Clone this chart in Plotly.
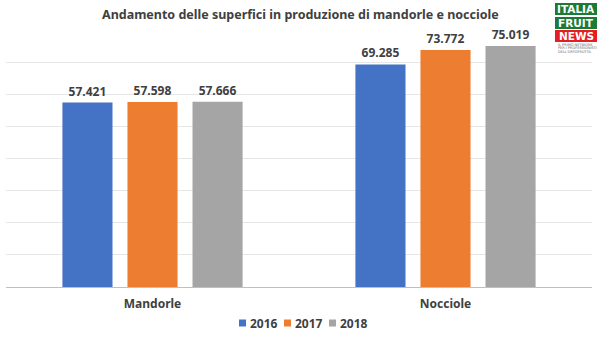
import plotly.graph_objects as go

# Chart data
categories = ["Mandorle", "Nocciole"]
years = ["2016", "2017", "2018"]
values_2016 = [57421, 69285]
values_2017 = [57598, 73772]
values_2018 = [57666, 75019]
series_values = [values_2016, values_2017, values_2018]
colors = ["#4472C4", "#ED7D31", "#A5A5A5"]

W, H = 600, 337
ML, MR, MT, MB = 6, 8, 30, 50
PW, PH = W - ML - MR, H - MT - MB


def px_x(x):
    return (x - ML) / PW


def px_y(y):
    return (H - MB - y) / PH


TXT = "#404040"
FONT = "Noto Sans"

fig = go.Figure()
for year, vals, col in zip(years, series_values, colors):
    fig.add_trace(go.Bar(
        name=year, x=categories, y=vals, marker_color=col,
        marker_line_width=0, showlegend=False,
        texttemplate="%{y:,.0f}", textposition="outside",
        textfont=dict(family=FONT, size=12, color=TXT, weight="bold"),
        cliponaxis=False,
    ))

shapes = []
annotations = [dict(
    text="Andamento delle superfici in produzione di mandorle e nocciole",
    xref="paper", yref="paper", x=px_x(300), y=px_y(14),
    xanchor="center", yanchor="middle", showarrow=False,
    font=dict(family=FONT, size=12.5, color=TXT, weight="bold"),
)]

# Compact legend below the axis: small square swatch followed by the year
for i, (year, col) in enumerate(zip(years, colors)):
    x0 = 239 + i * 45
    shapes.append(dict(type="rect", xref="paper", yref="paper",
                       x0=px_x(x0), x1=px_x(x0 + 7), y0=px_y(326.5), y1=px_y(319.5),
                       fillcolor=col, line=dict(width=0)))
    annotations.append(dict(text=year, xref="paper", yref="paper",
                            x=px_x(x0 + 9), y=px_y(323), xanchor="left", yanchor="middle",
                            showarrow=False,
                            font=dict(family=FONT, size=12, color=TXT, weight="bold")))

# Publisher logo in the top-right corner
logo = [("ITALIA", "#1B7A36", 3, 15), ("FRUIT", "#1B7A36", 17, 29), ("NEWS", "#E31E24", 30, 42)]
for word, fill, y0, y1 in logo:
    shapes.append(dict(type="rect", xref="paper", yref="paper",
                       x0=px_x(555), x1=px_x(597), y0=px_y(y1), y1=px_y(y0),
                       fillcolor=fill, line=dict(width=0), layer="above"))
    annotations.append(dict(text=word, xref="paper", yref="paper",
                            x=px_x(576), y=px_y((y0 + y1) / 2),
                            xanchor="center", yanchor="middle", showarrow=False,
                            font=dict(family="DejaVu Sans", size=10.5, color="white", weight="bold")))
for i, line in enumerate(["IL PRIMO NETWORK", "PER I PROFESSIONISTI", "DELL'ORTOFRUTTA"]):
    annotations.append(dict(text=line, xref="paper", yref="paper",
                            x=px_x(556), y=px_y(45 + i * 3.5),
                            xanchor="left", yanchor="middle", showarrow=False,
                            font=dict(family="DejaVu Sans", size=3.5, color="#666666")))

fig.update_layout(
    width=W, height=H,
    margin=dict(l=ML, r=MR, t=MT, b=MB, autoexpand=False),
    paper_bgcolor="white", plot_bgcolor="white",
    barmode="group", bargap=0.334, bargroupgap=0.23,
    separators=",.",
    font=dict(family=FONT, color=TXT),
    showlegend=False,
    shapes=shapes, annotations=annotations,
    xaxis=dict(showline=True, linecolor="#BFBFBF", linewidth=1, ticks="",
               automargin=False, ticklabelstandoff=6,
               tickfont=dict(family=FONT, size=12, color=TXT, weight="bold")),
    yaxis=dict(range=[0, 80000], dtick=10000, showticklabels=False, automargin=False,
               showgrid=True, gridcolor="#E6E6E6", gridwidth=1, zeroline=False),
)

fig.write_html("out.html")
